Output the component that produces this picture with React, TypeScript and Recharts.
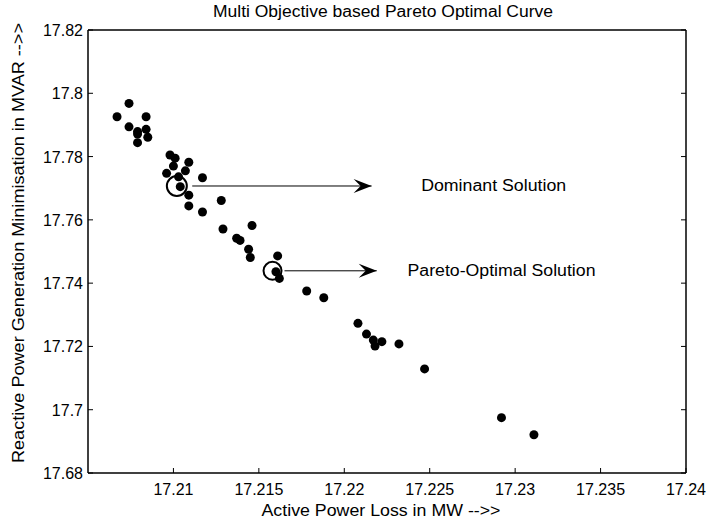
import { ScatterChart, Scatter, XAxis, YAxis, ReferenceLine } from 'recharts';

// axis ticks
const xTicks = [17.21, 17.215, 17.22, 17.225, 17.23, 17.235, 17.24];
const yTicks = [17.68, 17.7, 17.72, 17.74, 17.76, 17.78, 17.8, 17.82];

// Active power loss (MW) for each solution
const lossValues = [
  17.2074, 17.2067, 17.2084, 17.2074, 17.2079, 17.2084, 17.2085, 17.2079, 17.2079,
  17.2098, 17.2101, 17.2109, 17.21, 17.2107, 17.2096, 17.2103, 17.2104, 17.2117,
  17.2109, 17.2109, 17.2128, 17.2117, 17.2129, 17.2146, 17.2137, 17.2139, 17.2144,
  17.2145, 17.2161, 17.216, 17.2162, 17.2178, 17.2188, 17.2208, 17.2213, 17.2217,
  17.2218, 17.2222, 17.2232, 17.2247, 17.2292, 17.2311,
];
// Reactive power generation (MVAR) for each solution
const reactiveValues = [
  17.7968, 17.7926, 17.7926, 17.7894, 17.7879, 17.7886, 17.7861, 17.7844, 17.7871,
  17.7805, 17.7795, 17.7782, 17.777, 17.7755, 17.7747, 17.7736, 17.7705, 17.7733,
  17.7678, 17.7644, 17.7661, 17.7625, 17.7571, 17.7582, 17.7542, 17.7535, 17.7507,
  17.7481, 17.7486, 17.7436, 17.7415, 17.7375, 17.7354, 17.7273, 17.7239, 17.722,
  17.7201, 17.7215, 17.7208, 17.7129, 17.6975, 17.6921,
];

// annotations: circled solution, arrow and its text
const noteNames = ['Dominant Solution', 'Pareto-Optimal Solution'];
const noteWidths = [145, 188];
const circleX = [17.2102, 17.2158];
const circleY = [17.7707, 17.7439];
const circleRadius = [10, 9];
const arrowStartX = [17.2111, 17.2165];
const arrowEndX = [17.2216, 17.2219];
const noteTextX = [17.2245, 17.2237];

const points = lossValues.map((x, i) => ({ x, y: reactiveValues[i] }));
const circles = circleX.map((x, i) => ({ x, y: circleY[i], r: circleRadius[i] }));
const arrowHeads = arrowEndX.map((x, i) => ({ x, y: circleY[i] }));
const notes = noteNames.map((name, i) => ({ x: noteTextX[i], y: circleY[i], name, w: noteWidths[i] }));

const FONT = '"Liberation Sans", Arial, Helvetica, sans-serif';

const BottomTick = ({ x, y, payload }: any) => (
  <g>
    <line x1={x} y1={y} x2={x} y2={y - 5} stroke="#000" />
    <text x={x} y={y + 22} textAnchor="middle" fontSize={16} fontFamily={FONT} fill="#000">
      {String(payload.value)}
    </text>
  </g>
);

const TopTick = ({ x, y }: any) => <line x1={x} y1={y} x2={x} y2={y + 5} stroke="#000" />;

const LeftTick = ({ x, y, payload }: any) => (
  <g>
    <line x1={x} y1={y} x2={x + 5} y2={y} stroke="#000" />
    <text x={x - 5} y={y + 6} textAnchor="end" fontSize={16} fontFamily={FONT} fill="#000">
      {String(payload.value)}
    </text>
  </g>
);

const RightTick = ({ x, y }: any) => <line x1={x} y1={y} x2={x - 5} y2={y} stroke="#000" />;

const Title = () => (
  <text x={383} y={17} textAnchor="middle" fontSize={16} fontFamily={FONT} fill="#000" textLength={340} lengthAdjust="spacingAndGlyphs">
    Multi Objective based Pareto Optimal Curve
  </text>
);

const XTitle = ({ viewBox }: any) => (
  <text x={381} y={viewBox.y + 43} textAnchor="middle" fontSize={16} fontFamily={FONT} fill="#000" textLength={239} lengthAdjust="spacingAndGlyphs">
    Active Power Loss in MW --&gt;&gt;
  </text>
);

const YTitle = () => {
  const cx = 18;
  const cy = 243;
  return (
    <text x={cx} y={cy} transform={`rotate(-90 ${cx} ${cy})`} textAnchor="middle" dominantBaseline="central" fontSize={16} fontFamily={FONT} fill="#000" textLength={440} lengthAdjust="spacingAndGlyphs">
      Reactive Power Generation Minimisation in MVAR --&gt;&gt;
    </text>
  );
};

const Dot = (props: any) => <circle cx={props.cx} cy={props.cy} r={4.5} fill="#000" />;

const Ring = (props: any) => (
  <circle cx={props.cx} cy={props.cy} r={props.payload.r} fill="none" stroke="#000" strokeWidth={2} />
);

const ArrowHead = (props: any) => {
  const { cx, cy } = props;
  return <path d={`M${cx},${cy} L${cx - 18},${cy - 7} L${cx - 11},${cy} L${cx - 18},${cy + 7} Z`} fill="#000" />;
};

const Note = (props: any) => (
  <text x={props.cx} y={props.cy} dominantBaseline="central" fontSize={16} fontFamily={FONT} fill="#000" textLength={props.payload.w} lengthAdjust="spacingAndGlyphs">
    {props.payload.name}
  </text>
);

export default function App() {
  return (
    <div style={{ position: 'absolute', left: 0, top: 0, background: '#fff' }}>
      <ScatterChart width={708} height={524} margin={{ top: 0, right: 0, bottom: 0, left: 0 }}>
        <XAxis
          dataKey="x"
          type="number"
          domain={[17.205, 17.24]}
          ticks={xTicks}
          interval={0}
          allowDataOverflow
          height={51}
          tickSize={0}
          tickMargin={0}
          tickLine={false}
          axisLine={{ stroke: '#000', strokeWidth: 1.5 }}
          tick={<BottomTick />}
          label={<XTitle />}
        />
        <XAxis
          xAxisId="top"
          orientation="top"
          type="number"
          domain={[17.205, 17.24]}
          ticks={xTicks}
          interval={0}
          allowDataOverflow
          height={30}
          tickSize={0}
          tickMargin={0}
          tickLine={false}
          axisLine={{ stroke: '#000', strokeWidth: 1.5 }}
          tick={<TopTick />}
          label={<Title />}
        />
        <YAxis
          dataKey="y"
          type="number"
          domain={[17.68, 17.82]}
          ticks={yTicks}
          interval={0}
          allowDataOverflow
          width={88}
          tickSize={0}
          tickMargin={0}
          tickLine={false}
          axisLine={{ stroke: '#000', strokeWidth: 1.5 }}
          tick={<LeftTick />}
          label={<YTitle />}
        />
        <YAxis
          yAxisId="right"
          orientation="right"
          type="number"
          domain={[17.68, 17.82]}
          ticks={yTicks}
          interval={0}
          allowDataOverflow
          width={22}
          tickSize={0}
          tickMargin={0}
          tickLine={false}
          axisLine={{ stroke: '#000', strokeWidth: 1.5 }}
          tick={<RightTick />}
        />
        {arrowStartX.map((x, i) => (
          <ReferenceLine
            key={i}
            segment={[{ x, y: circleY[i] }, { x: arrowEndX[i], y: circleY[i] }]}
            stroke="#000"
            strokeWidth={1}
          />
        ))}
        <Scatter data={points} shape={<Dot />} isAnimationActive={false} />
        <Scatter data={circles} shape={<Ring />} isAnimationActive={false} />
        <Scatter data={arrowHeads} shape={<ArrowHead />} isAnimationActive={false} />
        <Scatter data={notes} shape={<Note />} isAnimationActive={false} />
      </ScatterChart>
    </div>
  );
}
